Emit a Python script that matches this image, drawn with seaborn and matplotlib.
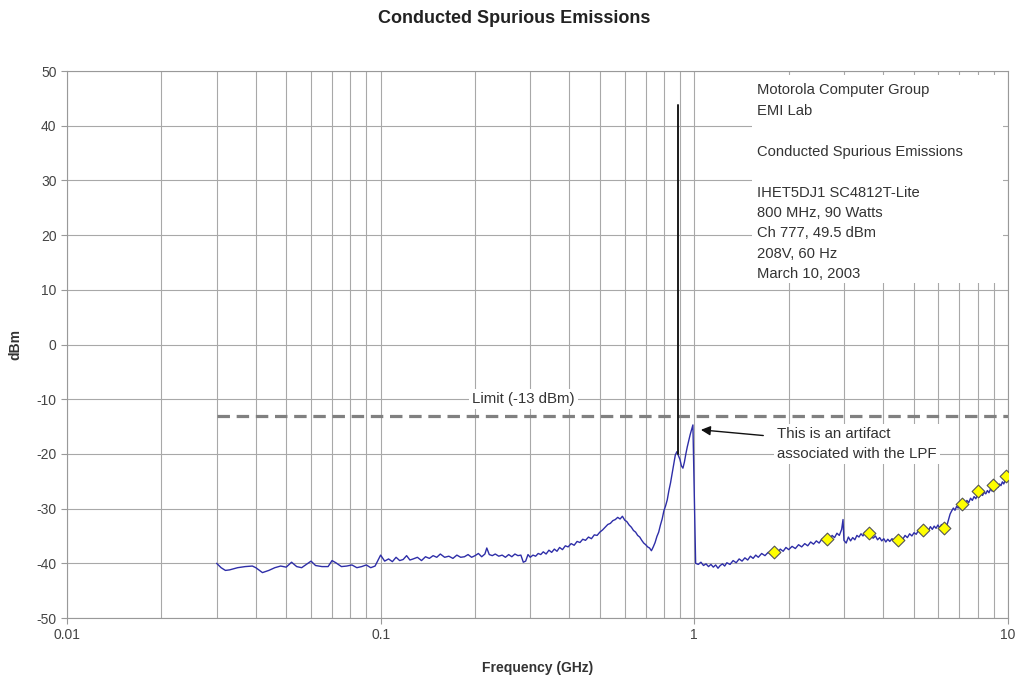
import numpy as np
import pandas as pd
import matplotlib
matplotlib.use("Agg")
import matplotlib.pyplot as plt
import matplotlib.patches as mpatches
import seaborn as sns
from matplotlib.ticker import FixedLocator, LogLocator, NullFormatter

# ---------------- data ----------------
freq_ghz = [
    0.030, 0.031, 0.032, 0.033, 0.035, 0.037, 0.039, 0.040, 0.042, 0.044,
    0.046, 0.048, 0.050, 0.052, 0.054, 0.056, 0.058, 0.060, 0.062, 0.065,
    0.068, 0.070, 0.072, 0.075, 0.078, 0.081, 0.084, 0.087, 0.090, 0.093,
    0.096, 0.100, 0.103, 0.106, 0.109, 0.112, 0.115, 0.118, 0.121, 0.124,
    0.127, 0.131, 0.135, 0.139, 0.143, 0.147, 0.151, 0.155, 0.160, 0.165,
    0.170, 0.175, 0.180, 0.185, 0.190, 0.195, 0.200, 0.205, 0.210, 0.215,
    0.218, 0.222, 0.227, 0.232, 0.238, 0.244, 0.250, 0.256, 0.262, 0.268,
    0.274, 0.280, 0.285, 0.290, 0.295, 0.300, 0.306, 0.312, 0.318, 0.324,
    0.330, 0.337, 0.344, 0.351, 0.358, 0.365, 0.372, 0.380, 0.388, 0.396,
    0.405, 0.414, 0.423, 0.432, 0.441, 0.450, 0.460, 0.470, 0.480, 0.490,
    0.500, 0.510, 0.520, 0.530, 0.540, 0.550, 0.560, 0.570, 0.580, 0.590,
    0.600, 0.610, 0.620, 0.630, 0.640, 0.650, 0.660, 0.670, 0.680, 0.690,
    0.700, 0.710, 0.720, 0.730, 0.740, 0.750, 0.760, 0.770, 0.780, 0.790,
    0.800, 0.810, 0.820, 0.830, 0.840, 0.850, 0.860, 0.870, 0.880, 0.890,
    0.900, 0.910, 0.920, 0.930, 0.940, 0.950, 0.960, 0.970, 0.980, 0.990,
    1.010, 1.03, 1.05, 1.07, 1.09, 1.11, 1.13, 1.15, 1.17, 1.19,
    1.21, 1.23, 1.25, 1.27, 1.30, 1.33, 1.36, 1.39, 1.42, 1.45,
    1.48, 1.51, 1.54, 1.57, 1.60, 1.64, 1.68, 1.72, 1.76, 1.80,
    1.84, 1.88, 1.92, 1.96, 2.00, 2.05, 2.10, 2.15, 2.20, 2.25,
    2.30, 2.35, 2.40, 2.45, 2.50, 2.55, 2.60, 2.65, 2.70, 2.75,
    2.80, 2.85, 2.90, 2.95, 2.98, 3.00, 3.05, 3.10, 3.15, 3.20,
    3.25, 3.30, 3.35, 3.40, 3.45, 3.50, 3.55, 3.60, 3.66, 3.72,
    3.78, 3.84, 3.90, 3.96, 4.02, 4.08, 4.14, 4.20, 4.27, 4.34,
    4.41, 4.48, 4.55, 4.62, 4.70, 4.78, 4.86, 4.94, 5.02, 5.10,
    5.18, 5.26, 5.34, 5.42, 5.50, 5.58, 5.66, 5.74, 5.82, 5.90,
    5.98, 6.06, 6.14, 6.22, 6.30, 6.38, 6.46, 6.54, 6.62, 6.70,
    6.78, 6.86, 6.94, 7.02, 7.10, 7.20, 7.30, 7.40, 7.50, 7.60,
    7.70, 7.80, 7.90, 8.00, 8.10, 8.20, 8.30, 8.40, 8.50, 8.60,
    8.70, 8.80, 8.90, 9.00, 9.10, 9.20, 9.30, 9.40, 9.50, 9.60,
    9.70, 9.80, 9.90, 10.0,
]
level_dbm = [
    -40.0, -40.8, -41.3, -41.2, -40.8, -40.6, -40.5, -40.8, -41.7, -41.3,
    -40.8, -40.5, -40.7, -39.8, -40.6, -40.8, -40.2, -39.6, -40.4, -40.6,
    -40.6, -39.5, -39.9, -40.6, -40.5, -40.3, -40.8, -40.6, -40.3, -40.8,
    -40.5, -38.5, -39.6, -39.2, -39.7, -38.9, -39.5, -39.3, -38.6, -39.4,
    -39.2, -38.9, -39.5, -38.8, -39.1, -38.6, -38.9, -38.3, -38.9, -38.7,
    -39.1, -38.5, -38.9, -38.8, -38.4, -38.9, -38.6, -38.2, -38.8, -38.3,
    -37.2, -38.4, -38.6, -38.3, -38.7, -38.5, -38.9, -38.4, -38.8, -38.3,
    -38.6, -38.5, -39.8, -39.6, -38.4, -38.9, -38.5, -38.7, -38.2, -38.4,
    -37.9, -38.3, -37.6, -38.0, -37.4, -37.8, -37.1, -37.5, -36.8, -37.0,
    -36.4, -36.7, -36.0, -36.2, -35.6, -35.8, -35.2, -35.5, -34.8, -34.9,
    -34.3, -33.9, -33.4, -32.9, -32.7, -32.2, -32.0, -31.6, -31.9, -31.4,
    -32.1, -32.4, -33.0, -33.4, -34.0, -34.3, -34.9, -35.2, -35.8, -36.3,
    -36.6, -37.0, -37.2, -37.7, -37.0, -36.2, -35.1, -34.3, -33.0, -31.9,
    -30.4, -29.5, -28.4, -26.7, -25.3, -23.6, -22.0, -20.2, -19.6, -20.3,
    -21.0, -22.2, -22.6, -21.5, -20.0, -18.7, -17.6, -16.5, -15.6, -14.7,
    -40.0, -40.2, -39.8, -40.4, -40.1, -40.6, -40.2, -40.7, -40.3, -40.9,
    -40.4, -40.1, -40.5, -39.9, -40.2, -39.5, -39.9, -39.2, -39.6, -39.0,
    -39.4, -38.7, -39.1, -38.5, -38.9, -38.2, -38.6, -38.0, -38.4, -37.9,
    -38.1, -37.4, -37.8, -37.1, -37.5, -36.9, -37.3, -36.6, -37.0, -36.4,
    -36.8, -36.1, -36.5, -35.9, -36.3, -35.6, -35.9, -35.4, -35.8, -34.9,
    -35.3, -34.5, -34.9, -33.8, -32.0, -35.8, -36.3, -35.2, -35.9, -35.3,
    -35.7, -34.9, -35.2, -34.6, -35.0, -34.3, -34.9, -34.4, -35.1, -35.4,
    -35.0, -35.7, -35.3, -35.9, -35.5, -36.1, -35.6, -36.0, -35.5, -35.9,
    -35.4, -35.8, -35.2, -35.6, -34.9, -35.3, -34.6, -35.0, -34.4, -34.7,
    -34.0, -34.4, -33.8, -34.2, -33.6, -34.0, -33.3, -33.8, -33.2, -33.6,
    -33.0, -33.5, -32.9, -33.4, -32.8, -33.2, -32.1, -31.0, -30.4, -29.9,
    -30.3, -29.6, -29.9, -29.2, -29.6, -28.9, -29.2, -28.5, -28.9, -28.1,
    -28.5, -27.8, -28.2, -27.4, -27.9, -27.1, -27.6, -27.0, -27.3, -26.7,
    -27.1, -26.4, -26.8, -26.2, -26.5, -25.8, -26.1, -25.5, -25.8, -25.1,
    -25.5, -24.8, -25.0, -24.5,
]

# carrier spike
carrier_freq = [0.889, 0.889]
carrier_level = [-20.0, 43.8]

# yellow diamond markers
marker_freq = [1.80, 2.65, 3.61, 4.46, 5.36, 6.25, 7.14, 8.02, 8.95, 9.86]
marker_level = [-37.9, -35.6, -34.5, -35.7, -33.9, -33.5, -29.2, -26.8, -25.7, -24.0]

# limit line
limit_freq = [0.03, 10.0]
limit_level = [-13.0, -13.0]

x_ticks = [0.01, 0.1, 1, 10]
x_tick_labels = ["0.01", "0.1", "1", "10"]
y_ticks = [-50, -40, -30, -20, -10, 0, 10, 20, 30, 40, 50]

info_lines = [
    "Motorola Computer Group",
    "EMI Lab",
    "",
    "Conducted Spurious Emissions",
    "",
    "IHET5DJ1 SC4812T-Lite",
    "800 MHz, 90 Watts",
    "Ch 777, 49.5 dBm",
    "208V, 60 Hz",
    "March 10, 2003",
]

# ---------------- plot ----------------
sns.set_style("white")
plt.rcParams["font.family"] = ["Liberation Sans", "DejaVu Sans"]
plt.rcParams["axes.unicode_minus"] = False

fig = plt.figure(figsize=(10.21, 6.81), dpi=100)
ax = fig.add_axes([0.0656, 0.0925, 0.9216, 0.8032])

trace = pd.DataFrame({"f": freq_ghz, "dBm": level_dbm})
sns.lineplot(data=trace, x="f", y="dBm", ax=ax, color="#2e2ea8", lw=1.0,
             sort=False, estimator=None, zorder=3)
sns.lineplot(x=carrier_freq, y=carrier_level, ax=ax, color="#1a1a1a", lw=1.4,
             estimator=None, sort=False, zorder=4)
sns.lineplot(x=limit_freq, y=limit_level, ax=ax, color="#808080", lw=2.3,
             linestyle=(0, (3.9, 2.1)), estimator=None, sort=False, zorder=2)
sns.scatterplot(x=marker_freq, y=marker_level, ax=ax, marker="D", s=42,
                color="#ffff00", edgecolor="#555555", linewidth=0.8, zorder=5)

ax.set_xscale("log")
ax.set_xlim(0.01, 10)
ax.set_ylim(-50, 50)
ax.xaxis.set_major_locator(FixedLocator(x_ticks))
ax.set_xticklabels(x_tick_labels)
ax.xaxis.set_minor_locator(LogLocator(base=10, subs=np.arange(2, 10)))
ax.xaxis.set_minor_formatter(NullFormatter())
ax.set_yticks(y_ticks)

ax.grid(True, which="major", axis="both", color="#a8a8a8", lw=0.8, zorder=0)
ax.grid(True, which="minor", axis="x", color="#a8a8a8", lw=0.8, zorder=0)
ax.set_axisbelow(True)
for s in ax.spines.values():
    s.set_color("#999999")
    s.set_linewidth(0.8)

ax.tick_params(axis="both", which="major", labelsize=10, labelcolor="#444444",
               color="#999999", length=4, direction="out", left=True, bottom=True)
ax.tick_params(axis="x", which="minor", length=0)
ax.tick_params(axis="x", pad=3)

ax.set_xlabel("Frequency (GHz)", fontsize=10, fontweight="bold", color="#333333", labelpad=14)
ax.set_ylabel("dBm", fontsize=10, fontweight="bold", color="#333333", labelpad=10)
fig.suptitle("Conducted Spurious Emissions", x=0.504, y=0.985, fontsize=13,
             fontweight="bold", color="#222222")

# white panel behind the info text
ax.add_patch(mpatches.Rectangle((0.728, 0.612), 0.267, 0.381, transform=ax.transAxes,
                                facecolor="white", edgecolor="none", zorder=5))
ax.text(1.59, 47.8, "\n".join(info_lines), fontsize=10.6, color="#333333",
        ha="left", va="top", linespacing=1.59, zorder=6)

ax.text(0.196, -10.0, "Limit (-13 dBm)", fontsize=10.8, color="#333333",
        ha="left", va="center", zorder=6,
        bbox=dict(boxstyle="square,pad=0.2", fc="white", ec="none"))

ax.annotate("This is an artifact\nassociated with the LPF",
            xy=(1.05, -15.6), xytext=(1.84, -18.2),
            fontsize=10.8, color="#333333", ha="left", va="center", zorder=6,
            linespacing=1.6,
            bbox=dict(boxstyle="square,pad=0.2", fc="white", ec="none"),
            arrowprops=dict(arrowstyle="-|>", color="#111111", lw=1.0,
                            mutation_scale=14, shrinkA=8, shrinkB=0))

fig.savefig("out.png", dpi=100)
